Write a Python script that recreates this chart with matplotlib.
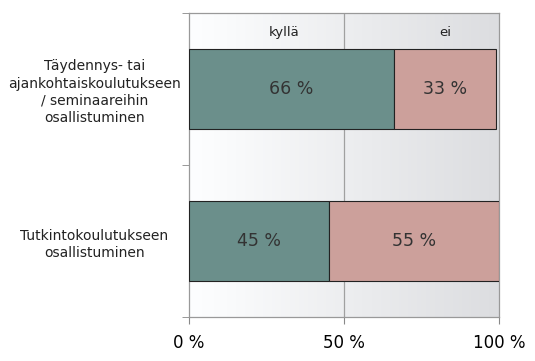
import numpy as np
import matplotlib.pyplot as plt
from matplotlib.colors import LinearSegmentedColormap

# data
categories = ['Täydennys- tai\najankohtaiskoulutukseen\n/ seminaareihin\nosallistuminen',
              'Tutkintokoulutukseen\nosallistuminen']
kylla = [66, 45]
ei = [33, 55]
series_names = ['kyllä', 'ei']
xticks = [0, 50, 100]

c_kylla = '#6b8f8b'
c_ei = '#cca09b'

fig = plt.figure(figsize=(5.35, 3.61), dpi=100)
ax = fig.add_axes([189 / 535, 1 - 317 / 361, 310 / 535, 304 / 361])

# taustan liukuväri
cmap = LinearSegmentedColormap.from_list(
    'bg', [(0, '#fdfeff'), (0.12, '#fafbfc'), (1, '#dcdde0')])
grad = np.linspace(0, 1, 256).reshape(1, -1)
ax.imshow(grad, cmap=cmap, aspect='auto', extent=[0, 100, 1.5, -0.5], zorder=0)

y = np.arange(len(categories))
ax.barh(y, kylla, height=0.53, color=c_kylla, edgecolor='#222222', linewidth=0.8, zorder=3)
ax.barh(y, ei, left=kylla, height=0.53, color=c_ei, edgecolor='#222222', linewidth=0.8, zorder=3)

for i in range(len(categories)):
    ax.text(kylla[i] / 2, y[i], f'{kylla[i]} %', ha='center', va='center',
            fontsize=12.5, color='#333333', zorder=4)
    ax.text(kylla[i] + ei[i] / 2, y[i], f'{ei[i]} %', ha='center', va='center',
            fontsize=12.5, color='#333333', zorder=4)

# selite yläreunassa
ax.text(30.6, -0.37, series_names[0], ha='center', va='center', fontsize=9.5, color='#222222')
ax.text(82.6, -0.37, series_names[1], ha='center', va='center', fontsize=9.5, color='#222222')

ax.axvline(50, color='#a0a0a0', linewidth=0.9, zorder=1)

ax.set_xlim(0, 100)
ax.set_ylim(1.5, -0.5)
ax.set_xticks(xticks)
ax.set_xticklabels([f'{v} %' for v in xticks], fontsize=12)
ax.set_yticks(y)
ax.set_yticklabels(categories, fontsize=10, ha='center', multialignment='center',
                   linespacing=1.3, color='#222222')
ax.tick_params(axis='y', length=0, pad=68)
ax.set_yticks([-0.5, 0.5, 1.5], minor=True)
ax.tick_params(axis='y', which='minor', length=5, color='#888888')
ax.tick_params(axis='x', length=5, color='#888888', pad=7)

for s in ax.spines.values():
    s.set_color('#999999')
    s.set_linewidth(0.9)

fig.savefig('out.png', dpi=100)
